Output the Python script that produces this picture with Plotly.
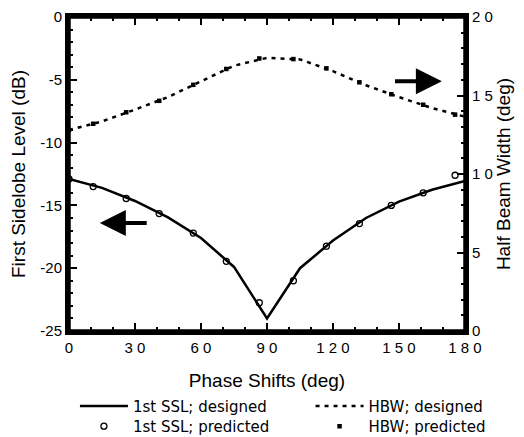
import plotly.graph_objects as go

# ---- data ----
phase_designed = [0, 15, 30, 45, 60, 75, 90, 105, 120, 135, 150, 165, 180]
ssl_designed = [-12.9, -13.6, -14.65, -15.95, -17.6, -19.9, -24.0, -20.0, -17.8, -16.0, -14.7, -13.75, -13.05]
hbw_designed = [12.8, 13.35, 14.1, 14.9, 15.9, 16.9, 17.4, 17.3, 16.55, 15.65, 14.9, 14.2, 13.65]

phase_pred = [0, 11, 26, 41, 56.5, 71.5, 86.5, 102, 117, 132, 146.5, 161, 175.5]
ssl_pred = [-12.9, -13.5, -14.45, -15.65, -17.2, -19.45, -22.75, -21.0, -18.25, -16.45, -15.0, -14.0, -12.6]
hbw_pred = [12.8, 13.2, 13.93, 14.66, 15.68, 16.69, 17.36, 17.32, 16.73, 15.84, 15.08, 14.41, 13.78]

x_tickvals = [0, 30, 60, 90, 120, 150, 180]
x_ticktext = ["0", "3 0", "6 0", "9 0", "1 2 0", "1 5 0", "1 8 0"]
y_tickvals = [0, -5, -10, -15, -20, -25]
y_ticktext = ["0", "-5", "-10", "-15", "-20", "-25"]
y2_tickvals = [0, 5, 10, 15, 20]
y2_ticktext = ["0", "5", "1 0", "1 5", "2 0"]

X_RANGE = [0, 180]
Y_RANGE = [-25, 0]
Y2_RANGE = [0, 20]

FONT = "Liberation Sans, Arial, sans-serif"
TICKFONT = dict(family=FONT, size=15, color="black")
TITLEFONT = dict(family=FONT, size=19, color="black")

fig = go.Figure()

# plot-area frame, drawn along the axis ranges
fig.add_trace(go.Scatter(
    x=[X_RANGE[0], X_RANGE[1], X_RANGE[1], X_RANGE[0], X_RANGE[0]],
    y=[Y_RANGE[0], Y_RANGE[0], Y_RANGE[1], Y_RANGE[1], Y_RANGE[0]],
    mode="lines", line=dict(color="black", width=3.5), cliponaxis=False,
    showlegend=False, hoverinfo="skip", yaxis="y"))

fig.add_trace(go.Scatter(x=phase_designed, y=ssl_designed, mode="lines",
                         line=dict(color="black", width=2.5),
                         name="1st SSL; designed", yaxis="y", legend="legend"))
fig.add_trace(go.Scatter(x=phase_pred, y=ssl_pred, mode="markers",
                         marker=dict(symbol="circle-open", size=6, color="black",
                                     line=dict(width=1.3, color="black")),
                         name="1st SSL; predicted", yaxis="y", legend="legend3"))
fig.add_trace(go.Scatter(x=phase_designed, y=hbw_designed, mode="lines",
                         line=dict(color="black", width=2.5, dash="4px,5px"),
                         name="HBW; designed", yaxis="y2", legend="legend2"))
fig.add_trace(go.Scatter(x=phase_pred, y=hbw_pred, mode="markers",
                         marker=dict(symbol="square", size=4.5, color="black"),
                         name="HBW; predicted", yaxis="y2", legend="legend4"))

axis_common = dict(showgrid=False, zeroline=False, showline=True, linecolor="black",
                   linewidth=4, ticks="inside", tickcolor="black", tickwidth=2,
                   automargin=False, ticklabeloverflow="allow", tickfont=TICKFONT,
                   layer="above traces")

legend_common = dict(orientation="v", yanchor="middle", xanchor="left",
                     itemwidth=48, font=dict(family="DejaVu Sans, sans-serif", size=15, color="black"),
                     bgcolor="rgba(0,0,0,0)", borderwidth=0)

ROW1 = -0.240
ROW2 = -0.304
COL1 = 0.015
COL2 = 0.61

fig.update_layout(
    width=516, height=429,
    margin=dict(l=61, r=59, t=9, b=106, autoexpand=False),
    paper_bgcolor="white", plot_bgcolor="rgba(0,0,0,0)",
    font=dict(family=FONT, size=15, color="black"),
    xaxis=dict(range=X_RANGE, tickvals=x_tickvals, ticktext=x_ticktext, ticklen=8,
               mirror="ticks",
               minor=dict(dtick=10, ticks="inside", ticklen=4, tickwidth=2, tickcolor="black"),
               title=dict(text="Phase Shifts (deg)", font=TITLEFONT, standoff=20),
               **axis_common),
    yaxis=dict(range=Y_RANGE, tickvals=y_tickvals, ticktext=y_ticktext, ticklen=8,
               minor=dict(dtick=1, ticks="inside", ticklen=4, tickwidth=2, tickcolor="black"),
               title=dict(text="First Sidelobe Level (dB)", font=TITLEFONT, standoff=15),
               **axis_common),
    yaxis2=dict(range=Y2_RANGE, overlaying="y", side="right", tickvals=y2_tickvals,
                ticktext=y2_ticktext, ticklen=8,
                minor=dict(dtick=1, ticks="inside", ticklen=4, tickwidth=2, tickcolor="black"),
                title=dict(text="Half Beam Width (deg)", font=TITLEFONT, standoff=3),
                **axis_common),
    showlegend=True,
    legend=dict(x=COL1, y=ROW1, **legend_common),
    legend3=dict(x=COL1, y=ROW2, **legend_common),
    legend2=dict(x=COL2, y=ROW1, **legend_common),
    legend4=dict(x=COL2, y=ROW2, **legend_common),
)

# direction arrows
fig.add_annotation(x=14, y=-16.4, ax=36, ay=-16.4, xref="x", yref="y", axref="x", ayref="y",
                   showarrow=True, arrowhead=2, arrowsize=1.3, arrowwidth=4, arrowcolor="black", text="")
fig.add_annotation(x=169.5, y=15.9, ax=147.5, ay=15.9, xref="x", yref="y2", axref="x", ayref="y2",
                   showarrow=True, arrowhead=2, arrowsize=1.3, arrowwidth=4, arrowcolor="black", text="")

fig.write_html("out.html")
